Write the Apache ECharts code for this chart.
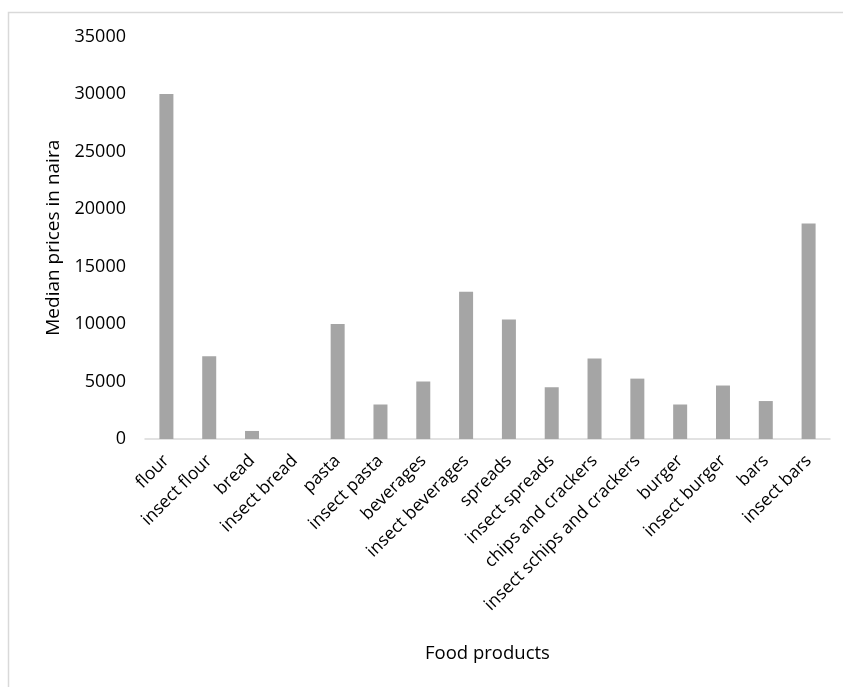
<!DOCTYPE html>
<html>
<head>
<meta charset="utf-8">
<script src="https://cdn.jsdelivr.net/npm/echarts@6/dist/echarts.min.js"></script>
<style>
html,body{margin:0;padding:0;background:#fff;}
#chart{width:843px;height:687px;}
</style>
</head>
<body>
<div id="chart"></div>
<script>
const categories = ['flour','insect flour','bread','insect bread','pasta','insect pasta','beverages','insect beverages','spreads','insect spreads','chips and crackers','insect schips and crackers','burger','insect burger','bars','insect bars'];
const medianPrices = [30000, 7200, 700, 0, 10000, 3000, 5000, 12800, 10400, 4500, 7000, 5250, 3000, 4650, 3300, 18750];
const yTicks = [0, 5000, 10000, 15000, 20000, 25000, 30000, 35000];

const FONT = 'Open Sans';
const chart = echarts.init(document.getElementById('chart'));
chart.setOption({
  animation: false,
  backgroundColor: '#fff',
  graphic: [{
    type: 'rect', left: 6, top: 10, shape: {x: 0, y: 0, width: 900, height: 800},
    style: {fill: 'none', stroke: '#d9d9d9', lineWidth: 1.5}, silent: true
  }],
  grid: {left: 145, right: 13, top: 36.5, bottom: 248, containLabel: false},
  xAxis: {
    type: 'category',
    data: categories,
    name: 'Food products',
    nameLocation: 'middle',
    nameGap: 205,
    nameTextStyle: {fontFamily: FONT, fontSize: 18.5, color: '#000'},
    axisLine: {lineStyle: {color: '#d9d9d9', width: 1.5}},
    axisTick: {show: false},
    axisLabel: {rotate: 45, interval: 0, fontFamily: FONT, fontSize: 17.5, color: '#000', margin: 19}
  },
  yAxis: {
    type: 'value',
    min: yTicks[0],
    max: yTicks[yTicks.length - 1],
    interval: yTicks[1] - yTicks[0],
    name: 'Median prices in naira',
    nameLocation: 'middle',
    nameGap: 82,
    nameTextStyle: {fontFamily: FONT, fontSize: 19, color: '#000'},
    axisLine: {show: false},
    axisTick: {show: false},
    splitLine: {show: false},
    axisLabel: {fontFamily: FONT, fontSize: 18, color: '#000', margin: 19, formatter: function (v) { return String(v); }}
  },
  series: [{
    type: 'bar',
    data: medianPrices,
    barWidth: 14,
    itemStyle: {color: '#a5a5a5'}
  }]
});
</script>
</body>
</html>
